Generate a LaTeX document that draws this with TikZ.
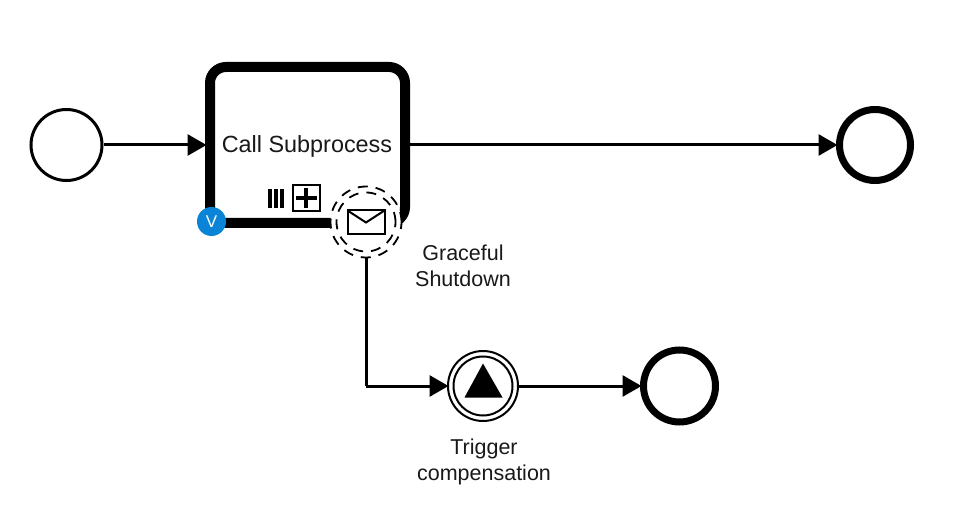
\documentclass[tikz,border=0pt]{standalone}
\usepackage{fontspec}
\setmainfont{Liberation Sans}
\usetikzlibrary{arrows.meta}
\definecolor{badge}{HTML}{0A84D6}
\tikzset{
  flow/.style={draw=black,line width=3pt,shorten >=-1.5pt,-{Triangle[length=19pt,width=21pt]}},
  plainflow/.style={draw=black,line width=3pt},
  startev/.style={circle,draw=black,fill=white,line width=3pt,minimum size=71pt,inner sep=0pt},
  endev/.style={circle,draw=black,fill=white,line width=7pt,minimum size=71pt,inner sep=0pt},
  ring/.style={circle,draw=black,fill=white,line width=2pt,inner sep=0pt},
  dashring/.style={circle,draw=black,fill=white,line width=1.8pt,inner sep=0pt,dash pattern=on 10pt off 8pt},
  label/.style={font=\fontsize{21.5}{26}\selectfont,align=center,text=black!90,inner sep=0pt},
  taskbox/.style={draw=black,fill=white,line width=10pt,rounded corners=16pt,minimum width=195pt,minimum height=156pt,inner sep=0pt}
}
\begin{document}
\begin{tikzpicture}[x=1pt,y=-1pt]
\useasboundingbox (0,0) rectangle (967,513);
\fill[white] (0,0) rectangle (967,513);
\node[startev] (start) at (66.5,145) {};
\node[taskbox] (task) at (307.5,145) {};
\node[font=\fontsize{23.4}{28}\selectfont,text=black!90,inner sep=0pt] (tasklabel) at (307,146.5) {Call Subprocess};
\node[endev] (end1) at (875,145) {};
\node[ring,minimum size=70pt] (comp) at (483,386) {};
\node[ring,minimum size=59pt] (compin) at (483,386) {};
\node[endev,minimum size=72pt] (end2) at (679.5,386) {};
\draw[flow] (start) -- (task);
\draw[flow] (task.east) -- (end1);
\draw[flow] (comp) -- (end2);
% markers
\fill[black] (268,189) rectangle (272,208);
\fill[black] (274,189) rectangle (278,208);
\fill[black] (280,189) rectangle (284,208);
\node[draw=black,line width=2pt,minimum width=27pt,minimum height=26pt,inner sep=0pt] (expand) at (306.5,198) {};
\fill[black] (295.5,196.2) rectangle (316.5,199.8);
\fill[black] (304.2,188) rectangle (307.8,208.5);
% badge
\node[circle,fill=badge,minimum size=29pt,inner sep=0pt,text=white,font=\fontsize{17}{17}\selectfont] (badgev) at (211.5,221.5) {V};
% boundary event
\node[circle,fill=white,minimum size=71pt,inner sep=0pt] (bound) at (366,222) {};
\node[dashring,minimum size=71pt] (boundout) at (366,222) {};
\node[dashring,minimum size=59pt] (boundin) at (366,222) {};
\node[draw=black,line width=2pt,fill=white,minimum width=37pt,minimum height=24pt,inner sep=0pt] (envelope) at (366,222.5) {};
\draw[black,line width=2pt] (347.5,210.5) -- (366,222.5) -- (384.5,210.5);
\node[label] (gs) at (463,266) {Graceful\\Shutdown};
% compensation
\fill[black] (483,363.5) -- (502.5,397.5) -- (464.5,397.5) -- cycle;
\node[label] (tc) at (484,462) {Trigger\\compensation};
\coordinate (bendc) at (366,386);
\draw[plainflow] (boundout.south) -- (bendc);
\draw[flow] (bendc) -- (comp);
\end{tikzpicture}
\end{document}
